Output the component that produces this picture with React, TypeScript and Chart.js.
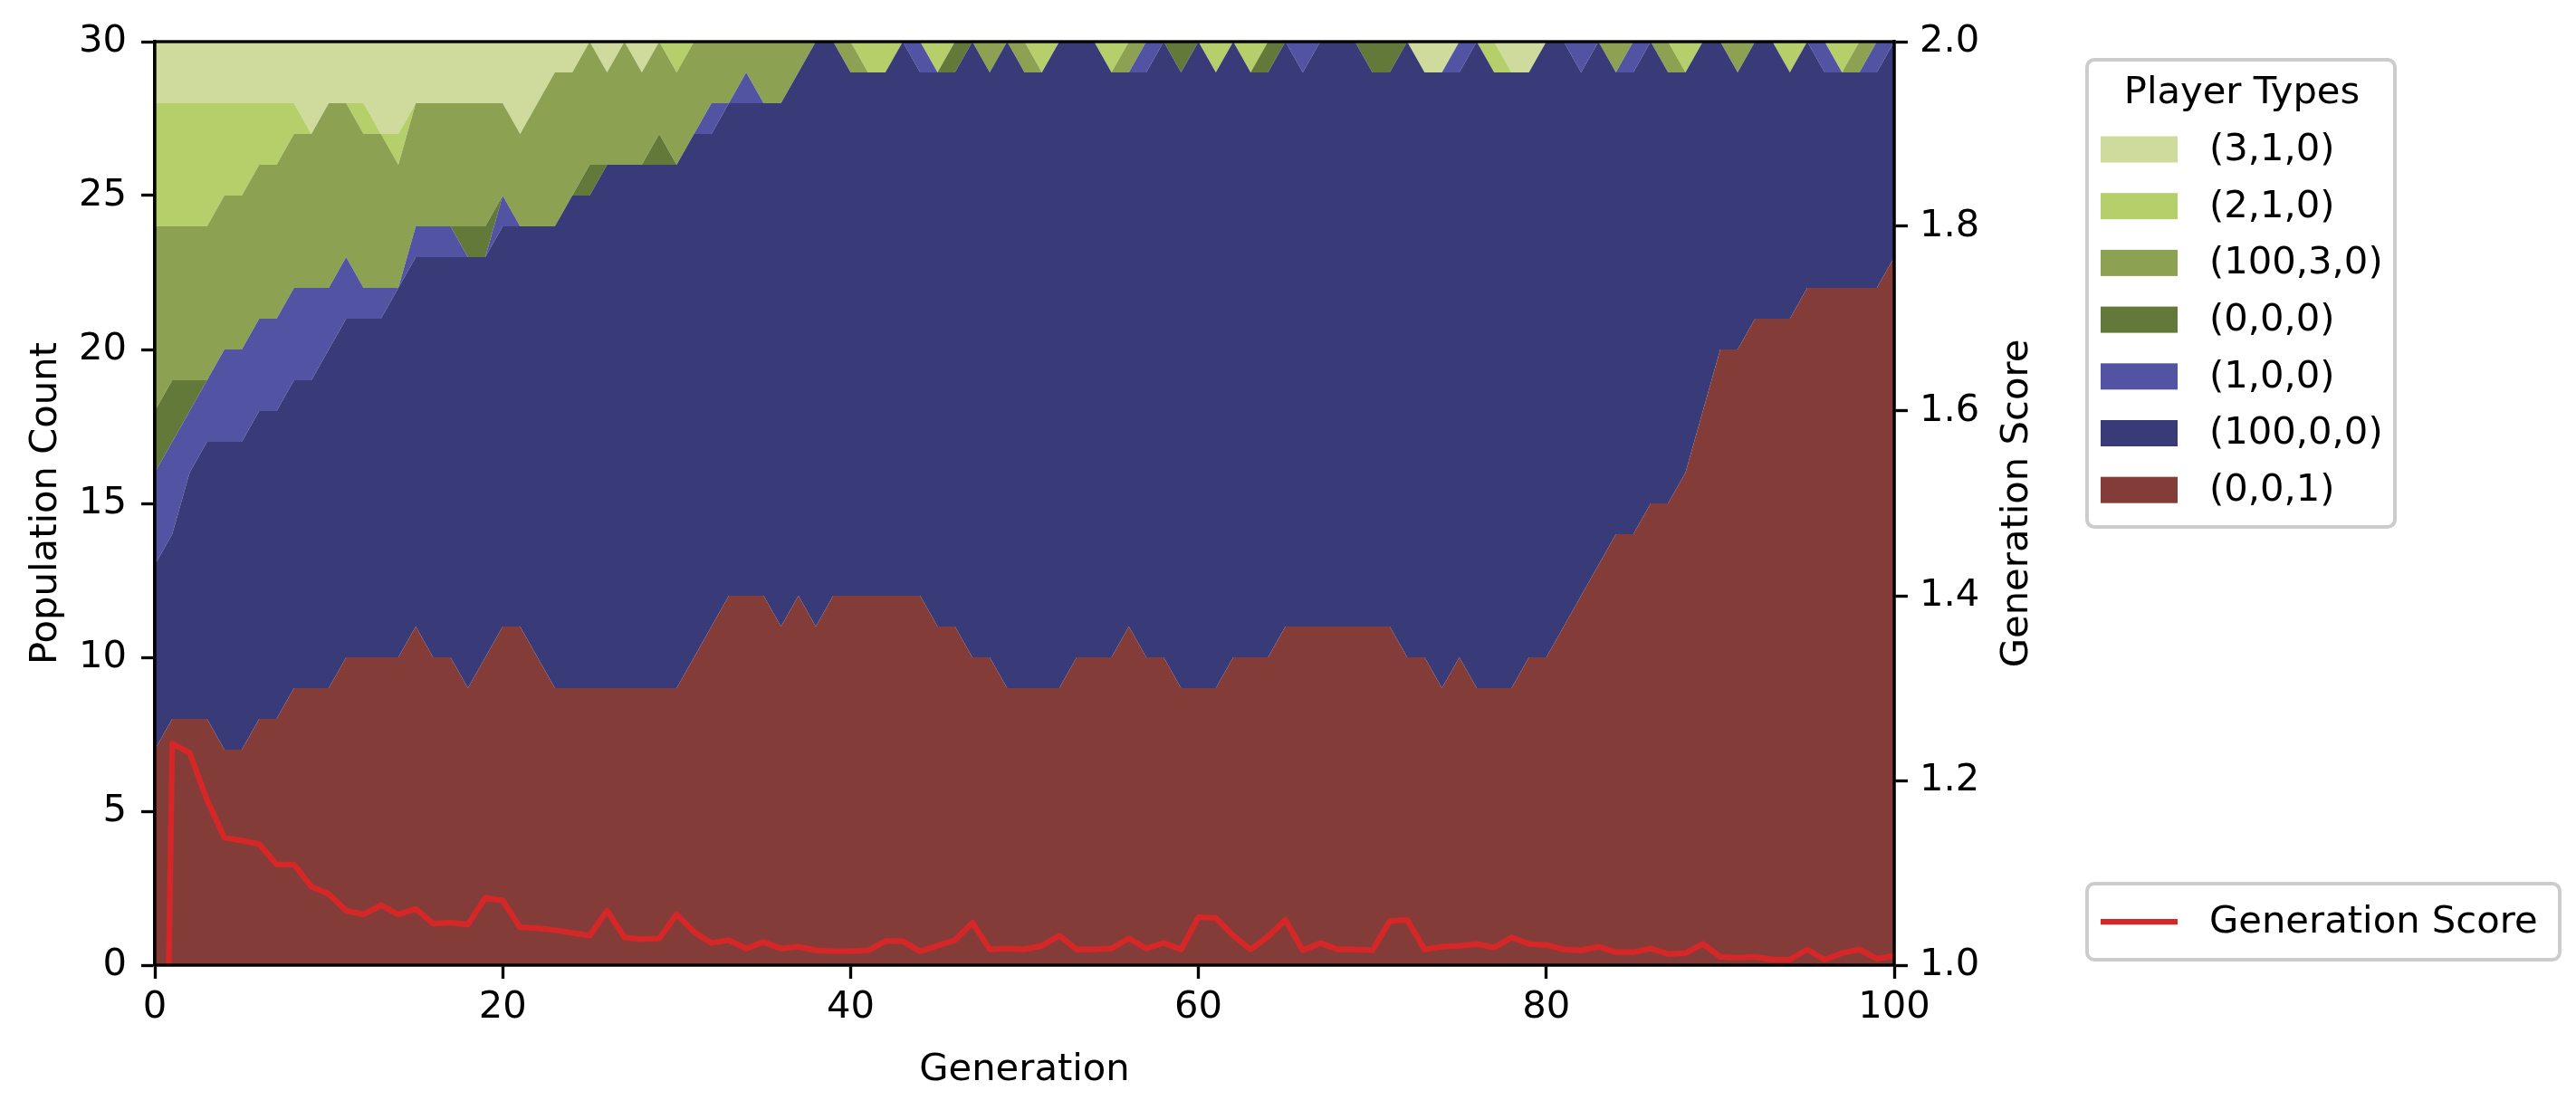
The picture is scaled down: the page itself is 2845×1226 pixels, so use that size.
import { useEffect, useRef } from "react";
import { Chart, registerables } from "chart.js";

Chart.register(...registerables);

// generation index 0..100
const generations = Array.from({ length: 101 }, (_, i) => i);

// population per player type (bottom to top)
const type001 = [
  7, 8, 8, 8, 7, 7, 8, 8, 9, 9,
  9, 10, 10, 10, 10, 11, 10, 10, 9, 10,
  11, 11, 10, 9, 9, 9, 9, 9, 9, 9,
  9, 10, 11, 12, 12, 12, 11, 12, 11, 12,
  12, 12, 12, 12, 12, 11, 11, 10, 10, 9,
  9, 9, 9, 10, 10, 10, 11, 10, 10, 9,
  9, 9, 10, 10, 10, 11, 11, 11, 11, 11,
  11, 11, 10, 10, 9, 10, 9, 9, 9, 10,
  10, 11, 12, 13, 14, 14, 15, 15, 16, 18,
  20, 20, 21, 21, 21, 22, 22, 22, 22, 22,
  23,
];
const type10000 = [
  6, 6, 8, 9, 10, 10, 10, 10, 10, 10,
  11, 11, 11, 11, 12, 12, 13, 13, 14, 13,
  13, 13, 14, 15, 16, 16, 17, 17, 17, 17,
  17, 17, 16, 16, 16, 16, 17, 17, 19, 18,
  17, 17, 17, 18, 17, 18, 18, 20, 19, 21,
  20, 20, 21, 20, 20, 19, 18, 19, 20, 20,
  21, 20, 20, 19, 19, 19, 18, 19, 19, 19,
  18, 18, 20, 19, 20, 19, 21, 20, 20, 19,
  20, 19, 17, 17, 15, 15, 15, 14, 13, 12,
  10, 9, 9, 9, 8, 8, 7, 7, 7, 7,
  7,
];
const type100 = [
  3, 3, 2, 2, 3, 3, 3, 3, 3, 3,
  2, 2, 1, 1, 0, 1, 1, 1, 0, 0,
  1, 0, 0, 0, 0, 0, 0, 0, 0, 0,
  0, 0, 1, 0, 1, 0, 0, 0, 0, 0,
  0, 0, 0, 0, 1, 0, 0, 0, 0, 0,
  0, 0, 0, 0, 0, 0, 0, 1, 0, 0,
  0, 0, 0, 0, 0, 0, 1, 0, 0, 0,
  0, 0, 0, 0, 0, 1, 0, 0, 0, 0,
  0, 0, 1, 0, 0, 1, 0, 0, 0, 0,
  0, 0, 0, 0, 0, 0, 1, 0, 0, 1,
  0,
];
const type000 = [
  2, 2, 1, 0, 0, 0, 0, 0, 0, 0,
  0, 0, 0, 0, 0, 0, 0, 0, 1, 1,
  0, 0, 0, 0, 0, 1, 0, 0, 0, 1,
  0, 0, 0, 0, 0, 0, 0, 0, 0, 0,
  0, 0, 0, 0, 0, 0, 1, 0, 0, 0,
  0, 0, 0, 0, 0, 0, 0, 0, 0, 1,
  0, 0, 0, 0, 1, 0, 0, 0, 0, 0,
  1, 1, 0, 0, 0, 0, 0, 0, 0, 0,
  0, 0, 0, 0, 0, 0, 0, 0, 0, 0,
  0, 0, 0, 0, 0, 0, 0, 0, 0, 0,
  0,
];
const type10030 = [
  6, 5, 5, 5, 5, 5, 5, 5, 5, 5,
  6, 5, 5, 5, 4, 4, 4, 4, 4, 4,
  3, 3, 4, 5, 4, 4, 3, 4, 3, 3,
  3, 3, 2, 2, 1, 2, 2, 1, 0, 0,
  1, 0, 0, 0, 0, 0, 0, 0, 1, 0,
  1, 0, 0, 0, 0, 0, 1, 0, 0, 0,
  0, 0, 0, 0, 0, 0, 0, 0, 0, 0,
  0, 0, 0, 0, 0, 0, 0, 0, 0, 0,
  0, 0, 0, 0, 1, 0, 0, 1, 0, 0,
  0, 1, 0, 0, 0, 0, 0, 0, 1, 0,
  0,
];
const type210 = [
  4, 4, 4, 4, 3, 3, 2, 2, 1, 0,
  0, 0, 1, 0, 1, 0, 0, 0, 0, 0,
  0, 0, 0, 0, 0, 0, 0, 0, 0, 0,
  1, 0, 0, 0, 0, 0, 0, 0, 0, 0,
  0, 1, 1, 0, 0, 1, 0, 0, 0, 0,
  0, 1, 0, 0, 0, 1, 0, 0, 0, 0,
  0, 1, 0, 1, 0, 0, 0, 0, 0, 0,
  0, 0, 0, 0, 0, 0, 0, 1, 0, 0,
  0, 0, 0, 0, 0, 0, 0, 0, 1, 0,
  0, 0, 0, 0, 1, 0, 0, 1, 0, 0,
  0,
];
const type310 = [
  2, 2, 2, 2, 2, 2, 2, 2, 2, 3,
  2, 2, 2, 3, 3, 2, 2, 2, 2, 2,
  2, 3, 2, 1, 1, 0, 1, 0, 1, 0,
  0, 0, 0, 0, 0, 0, 0, 0, 0, 0,
  0, 0, 0, 0, 0, 0, 0, 0, 0, 0,
  0, 0, 0, 0, 0, 0, 0, 0, 0, 0,
  0, 0, 0, 0, 0, 0, 0, 0, 0, 0,
  0, 0, 0, 1, 1, 0, 0, 0, 1, 1,
  0, 0, 0, 0, 0, 0, 0, 0, 0, 0,
  0, 0, 0, 0, 0, 0, 0, 0, 0, 0,
  0,
];

// generation score (right axis)
const generationScore = [
  0, 1.24, 1.23, 1.179, 1.138, 1.135, 1.131, 1.109, 1.109, 1.085,
  1.077, 1.059, 1.055, 1.065, 1.055, 1.061, 1.045, 1.046, 1.044, 1.073,
  1.07, 1.041, 1.04, 1.038, 1.035, 1.032, 1.059, 1.03, 1.028, 1.029,
  1.055, 1.036, 1.024, 1.027, 1.018, 1.025, 1.018, 1.02, 1.016, 1.015,
  1.015, 1.016, 1.026, 1.026, 1.015, 1.021, 1.027, 1.046, 1.017, 1.018,
  1.017, 1.021, 1.032, 1.017, 1.017, 1.018, 1.029, 1.018, 1.024, 1.017,
  1.052, 1.051, 1.032, 1.017, 1.031, 1.049, 1.016, 1.024, 1.017, 1.017,
  1.016, 1.048, 1.049, 1.017, 1.02, 1.021, 1.023, 1.019, 1.03, 1.023,
  1.022, 1.017, 1.016, 1.02, 1.014, 1.014, 1.018, 1.012, 1.013, 1.023,
  1.009, 1.008, 1.009, 1.006, 1.006, 1.017, 1.006, 1.013, 1.017, 1.007,
  1.01,
];

// stack order, bottom first
const playerTypes = [
  { label: "(0,0,1)", data: type001, color: "#843c39" },
  { label: "(100,0,0)", data: type10000, color: "#393b79" },
  { label: "(1,0,0)", data: type100, color: "#5254a3" },
  { label: "(0,0,0)", data: type000, color: "#637939" },
  { label: "(100,3,0)", data: type10030, color: "#8ca252" },
  { label: "(2,1,0)", data: type210, color: "#b5cf6b" },
  { label: "(3,1,0)", data: type310, color: "#cedb9c" },
];

const FONT = '"DejaVu Sans", sans-serif';
const FS = 41.7;
const SCORE_COLOR = "#d62728";

const overlay = {
  id: "overlay",
  afterDatasetsDraw(chart: any) {
    const { ctx, chartArea: a } = chart;
    ctx.save();
    ctx.strokeStyle = "#000";
    ctx.lineWidth = 3.33;
    ctx.strokeRect(a.left, a.top, a.right - a.left, a.bottom - a.top);
    ctx.restore();
  },
  afterDraw(chart: any) {
    const { ctx, chartArea: a } = chart;
    ctx.save();
    ctx.font = `${FS}px ${FONT}`;
    ctx.fillStyle = "#000";

    // right axis title, reads bottom to top like matplotlib
    ctx.save();
    ctx.translate(2228, (a.top + a.bottom) / 2);
    ctx.rotate(-Math.PI / 2);
    ctx.textAlign = "center";
    ctx.textBaseline = "middle";
    ctx.fillText("Generation Score", 0, 0);
    ctx.restore();

    const box = (x: number, y: number, w: number, h: number) => {
      ctx.beginPath();
      ctx.roundRect(x, y, w, h, 8);
      ctx.fillStyle = "#fff";
      ctx.fill();
      ctx.lineWidth = 4;
      ctx.strokeStyle = "#cccccc";
      ctx.stroke();
    };

    // player types legend
    box(2305, 66, 340, 516);
    ctx.fillStyle = "#000";
    ctx.textAlign = "center";
    ctx.textBaseline = "middle";
    ctx.fillText("Player Types", 2476, 103);
    ctx.textAlign = "left";
    [...playerTypes].reverse().forEach((t, i) => {
      const y = 165 + i * 62.7;
      ctx.fillStyle = t.color;
      ctx.fillRect(2320, y - 14.5, 85, 29);
      ctx.fillStyle = "#000";
      ctx.fillText(t.label, 2440, y + 1);
    });

    // score legend
    box(2305, 976, 522, 84);
    ctx.strokeStyle = SCORE_COLOR;
    ctx.lineWidth = 6.25;
    ctx.beginPath();
    ctx.moveTo(2320, 1018);
    ctx.lineTo(2405, 1018);
    ctx.stroke();
    ctx.fillStyle = "#000";
    ctx.textAlign = "left";
    ctx.textBaseline = "middle";
    ctx.fillText("Generation Score", 2440, 1019);
    ctx.restore();
  },
};

const tickFont = { family: FONT, size: FS };

export default function App() {
  const canvasRef = useRef<HTMLCanvasElement>(null);

  useEffect(() => {
    if (!canvasRef.current) return;

    const areaSets = playerTypes.map((t, i) => ({
      label: t.label,
      data: generations.map((g, k) => ({ x: g, y: t.data[k] })),
      backgroundColor: t.color,
      borderWidth: 0,
      pointRadius: 0,
      fill: i === 0 ? "origin" : "-1",
      yAxisID: "y",
      tension: 0,
    }));

    const chart = new Chart(canvasRef.current, {
      type: "line",
      data: {
        datasets: [
          ...areaSets,
          {
            label: "Generation Score",
            data: generations.map((g, k) => ({ x: g, y: generationScore[k] })),
            borderColor: SCORE_COLOR,
            borderWidth: 6.25,
            borderJoinStyle: "round",
            pointRadius: 0,
            fill: false,
            yAxisID: "y1",
            tension: 0,
            clip: 0,
            order: -1,
          },
        ] as any,
      },
      options: {
        animation: false,
        responsive: true,
        maintainAspectRatio: false,
        devicePixelRatio: 1,
        layout: { padding: { left: 0, top: 46, right: 583, bottom: 0 } },
        plugins: {
          legend: { display: false },
          tooltip: { enabled: false },
        },
        scales: {
          x: {
            type: "linear",
            min: 0,
            max: 100,
            ticks: { stepSize: 20, color: "#000", font: tickFont, padding: 7, maxRotation: 0 },
            grid: { drawOnChartArea: false, drawTicks: true, tickLength: 15, tickWidth: 3.33, tickColor: "#000" },
            border: { display: true, color: "#000", width: 3.33 },
            title: { display: true, text: "Generation", color: "#000", font: tickFont, padding: { top: 0, bottom: 19 } },
            afterFit: (s: any) => { s.height = 160; },
          },
          y: {
            type: "linear",
            position: "left",
            stacked: true,
            min: 0,
            max: 30,
            ticks: { stepSize: 5, color: "#000", font: tickFont, padding: 16 },
            grid: { drawOnChartArea: false, drawTicks: true, tickLength: 15, tickWidth: 3.33, tickColor: "#000" },
            border: { display: true, color: "#000", width: 3.33 },
            title: { display: true, text: "Population Count", color: "#000", font: tickFont, padding: { top: 26, bottom: 0 } },
            afterFit: (s: any) => { s.width = 171; },
          },
          y1: {
            type: "linear",
            position: "right",
            min: 1,
            max: 2,
            ticks: {
              stepSize: 0.2,
              color: "#000",
              font: tickFont,
              padding: 13,
              callback: (v: any) => Number(v).toFixed(1),
            },
            grid: { drawOnChartArea: false, drawTicks: true, tickLength: 15, tickWidth: 3.33, tickColor: "#000" },
            border: { display: true, color: "#000", width: 3.33 },
            afterFit: (s: any) => { s.width = 170; },
          },
        },
      },
      plugins: [overlay],
    });

    return () => chart.destroy();
  }, []);

  return (
    <div style={{ position: "absolute", left: 0, top: 0, width: 2845, height: 1226, background: "#fff" }}>
      <canvas ref={canvasRef} style={{ width: "100%", height: "100%" }}></canvas>
    </div>
  );
}
